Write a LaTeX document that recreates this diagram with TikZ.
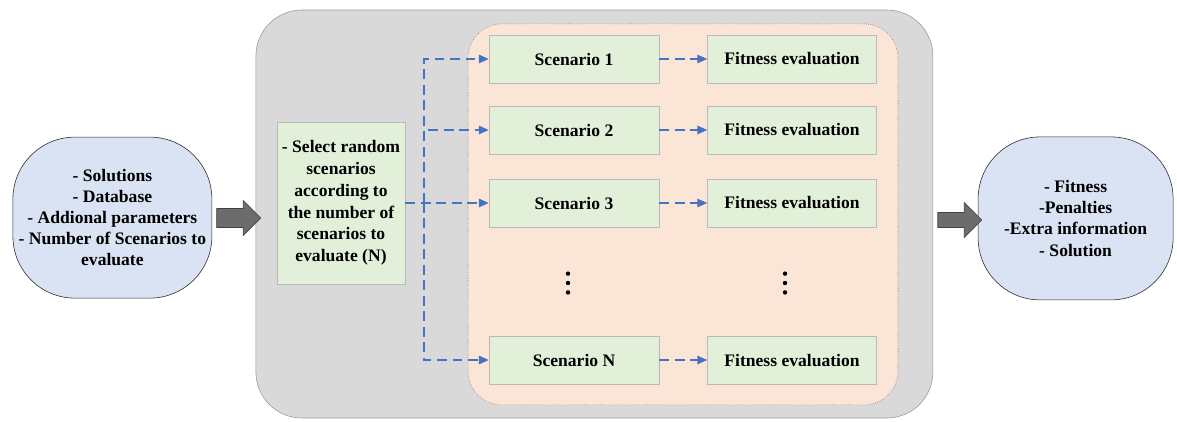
\documentclass[tikz,border=0pt]{standalone}
\usepackage{fontspec}
\setmainfont{Liberation Serif}
\usepackage{xcolor}
\usetikzlibrary{arrows.meta,positioning,shapes.arrows}

\definecolor{shellgray}{HTML}{D9D9D9}
\definecolor{poolorange}{HTML}{FBE5D6}
\definecolor{boxgreen}{HTML}{E2F0D9}
\definecolor{endblue}{HTML}{DAE3F3}
\definecolor{flowblue}{HTML}{4472C4}

\begin{document}
\begin{tikzpicture}[
  every node/.style={font=\bfseries\fontsize{12.5}{15}\selectfont, align=center},
  shell/.style={draw=gray!80, fill=shellgray, rounded corners=1.15cm, minimum width=16.925cm, minimum height=10.2cm},
  pool/.style={draw=gray!90!black, densely dotted, fill=poolorange, rounded corners=0.85cm, minimum width=10.75cm, minimum height=9.525cm},
  stepbox/.style={draw=gray!55, fill=boxgreen, minimum width=4.25cm, minimum height=1.2cm},
  endbox/.style={draw=black!85, fill=endblue, rounded corners=1.55cm},
  blockarrow/.style={single arrow, draw=black!75, fill=gray!85!black, inner sep=0.23cm, single arrow head extend=0.2cm, minimum height=1.1cm},
  flow/.style={draw=flowblue, line width=0.9pt, dash pattern=on 7pt off 4pt, -{Triangle[length=7pt,width=6pt]}}
]
\useasboundingbox (0,0) rectangle (29.425,-10.525);

% Containers
\node (shell) at (14.86,-5.35) [shell] {};
\node (pool) at (17.075,-5.36) [pool] {};

% Input and output
\node (inp) at (2.81,-5.44) [endbox, minimum width=4.975cm, minimum height=4.025cm] {- Solutions\\- Database\\- Addional parameters\\- Number of Scenarios to\\evaluate};
\node (out) at (26.89,-5.46) [endbox, minimum width=4.875cm, minimum height=4.075cm] {- Fitness\\-Penalties\\-Extra information\\- Solution};

% Block arrows
\node (arrin) at (5.85,-5.45) [blockarrow] {};
\node (arrout) at (23.9,-5.5) [blockarrow, inner sep=0.18cm, single arrow head extend=0.25cm] {};

% Selection step
\node (sel) at (8.525,-5.075) [stepbox, minimum width=3.2cm, minimum height=4.05cm, font=\bfseries\fontsize{12.5}{15.5}\selectfont] {- Select random\\scenarios\\according to\\the number of\\scenarios to\\evaluate (N)};

% Scenarios and evaluations
\node (sc1) at (14.35,-1.475) [stepbox] {Scenario 1};
\node (sc2) at (14.35,-3.25) [stepbox] {Scenario 2};
\node (sc3) at (14.35,-5.075) [stepbox] {Scenario 3};
\node (scN) at (14.35,-9.0) [stepbox] {Scenario N};
\node (fit1) at (19.8,-1.475) [stepbox, minimum width=4.225cm] {Fitness evaluation};
\node (fit2) at (19.8,-3.25) [stepbox, minimum width=4.225cm] {Fitness evaluation};
\node (fit3) at (19.8,-5.075) [stepbox, minimum width=4.225cm] {Fitness evaluation};
\node (fitN) at (19.8,-9.0) [stepbox, minimum width=4.225cm] {Fitness evaluation};

% Dots
\coordinate (dots1) at (14.2,-7.075);
\coordinate (dots2) at (19.625,-7.075);
\foreach \d in {dots1,dots2}
  \foreach \y in {-0.235,0,0.235}
    \fill ([yshift=\y cm]\d) circle (0.055cm);

% Flows
\coordinate (split) at (10.6,-5.075);
\draw [flow] (sel.east) -- (sc3.west);
\foreach \s in {sc1,sc2,scN}
  \draw [flow] (split) |- (\s.west);
\foreach \i in {1,2,3,N}
  \draw [flow] (sc\i.east) -- (fit\i.west);
\end{tikzpicture}
\end{document}
